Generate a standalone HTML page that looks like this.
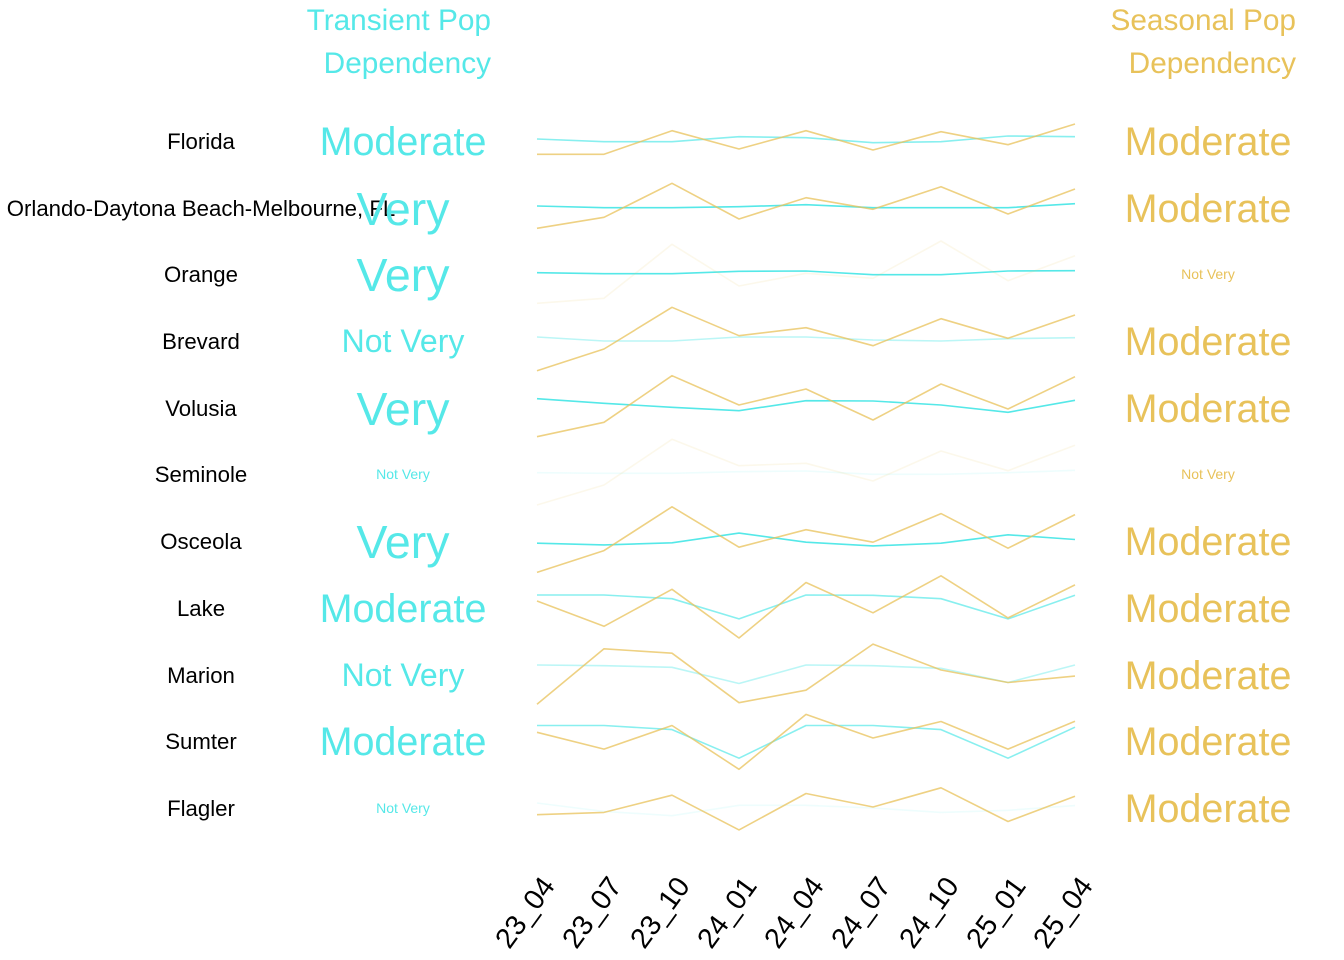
<!DOCTYPE html>
<html><head><meta charset="utf-8"><style>
html,body{margin:0;padding:0;background:#fff;}
svg{display:block;font-family:"Liberation Sans",sans-serif;}
</style></head><body>
<svg width="1344" height="960" viewBox="0 0 1344 960" xmlns="http://www.w3.org/2000/svg">
<g font-size="29.8" text-anchor="end">
<text x="491" y="30" fill="#55e8e8">Transient Pop</text>
<text x="491" y="73" fill="#55e8e8">Dependency</text>
<text x="1296" y="30" fill="#e8c25a">Seasonal Pop</text>
<text x="1296" y="73" fill="#e8c25a">Dependency</text>
</g>
<g font-size="22.2" text-anchor="middle" fill="#000">
<text x="201" y="149">Florida</text>
<text x="201" y="216">Orlando-Daytona Beach-Melbourne, FL</text>
<text x="201" y="282">Orange</text>
<text x="201" y="349">Brevard</text>
<text x="201" y="416">Volusia</text>
<text x="201" y="482">Seminole</text>
<text x="201" y="549">Osceola</text>
<text x="201" y="616">Lake</text>
<text x="201" y="683">Marion</text>
<text x="201" y="749">Sumter</text>
<text x="201" y="816">Flagler</text>
</g>
<g text-anchor="middle" fill="#55e8e8">
<text x="403" y="155" font-size="39.5">Moderate</text>
<text x="403" y="225" font-size="46.5">Very</text>
<text x="403" y="291" font-size="46.5">Very</text>
<text x="403" y="352" font-size="32">Not Very</text>
<text x="403" y="425" font-size="46.5">Very</text>
<text x="403" y="479" font-size="14">Not Very</text>
<text x="403" y="558" font-size="46.5">Very</text>
<text x="403" y="622" font-size="39.5">Moderate</text>
<text x="403" y="686" font-size="32">Not Very</text>
<text x="403" y="755" font-size="39.5">Moderate</text>
<text x="403" y="813" font-size="14">Not Very</text>
</g>
<g text-anchor="middle" fill="#e8c25a">
<text x="1208" y="155" font-size="39.5">Moderate</text>
<text x="1208" y="222" font-size="39.5">Moderate</text>
<text x="1208" y="279" font-size="14">Not Very</text>
<text x="1208" y="355" font-size="39.5">Moderate</text>
<text x="1208" y="422" font-size="39.5">Moderate</text>
<text x="1208" y="479" font-size="14">Not Very</text>
<text x="1208" y="555" font-size="39.5">Moderate</text>
<text x="1208" y="622" font-size="39.5">Moderate</text>
<text x="1208" y="689" font-size="39.5">Moderate</text>
<text x="1208" y="755" font-size="39.5">Moderate</text>
<text x="1208" y="822" font-size="39.5">Moderate</text>
</g>
<g fill="none" stroke-width="1.6" stroke-linejoin="round">
<polyline stroke="rgba(85,232,232,0.7)" points="537,139 604,141.7 672,141.7 739,136.7 806,137.7 873,142.7 941,141.7 1008,136 1075,136.7"/>
<polyline stroke="rgba(232,194,90,0.75)" points="537,154.3 604,154.3 672,130.7 739,149 806,130.7 873,150 941,131.7 1008,144.7 1075,124"/>
<polyline stroke="rgba(85,232,232,1)" points="537,206 604,207.7 672,207.7 739,206.7 806,204.7 873,207.7 941,207.7 1008,207.7 1075,203.7"/>
<polyline stroke="rgba(232,194,90,0.75)" points="537,228.3 604,217.3 672,183.3 739,219 806,197.7 873,209.3 941,186.7 1008,214 1075,189"/>
<polyline stroke="rgba(85,232,232,1)" points="537,272.7 604,273.7 672,273.7 739,271.3 806,271 873,274.7 941,274.7 1008,271 1075,270.7"/>
<polyline stroke="rgba(232,194,90,0.12)" points="537,303.3 604,298.3 672,244.3 739,286 806,273.3 873,278.3 941,241 1008,280.7 1075,255.7"/>
<polyline stroke="rgba(85,232,232,0.4)" points="537,337 604,341 672,341 739,337 806,337 873,340 941,341 1008,338.7 1075,337.7"/>
<polyline stroke="rgba(232,194,90,0.75)" points="537,370.7 604,349 672,307.3 739,335.7 806,327.7 873,345.7 941,318.7 1008,338.3 1075,315"/>
<polyline stroke="rgba(85,232,232,1)" points="537,398.7 604,403.3 672,407.3 739,410.7 806,400.7 873,401 941,405 1008,412.3 1075,400.3"/>
<polyline stroke="rgba(232,194,90,0.75)" points="537,436.7 604,422.3 672,375.7 739,405 806,389 873,420 941,384 1008,409 1075,376.7"/>
<polyline stroke="rgba(85,232,232,0.1)" points="537,472.7 604,473.3 672,473.3 739,471.7 806,471 873,474.3 941,474.3 1008,472.7 1075,470.3"/>
<polyline stroke="rgba(232,194,90,0.12)" points="537,505 604,485 672,439.3 739,465.7 806,463.3 873,481 941,451 1008,470.7 1075,445.3"/>
<polyline stroke="rgba(85,232,232,1)" points="537,543.2 604,544.9 672,542.8 739,533.1 806,542.2 873,545.9 941,543.2 1008,534.8 1075,539.5"/>
<polyline stroke="rgba(232,194,90,0.75)" points="537,572.4 604,550.6 672,506.8 739,547.2 806,529.7 873,542.2 941,513.6 1008,548.2 1075,514.6"/>
<polyline stroke="rgba(85,232,232,0.7)" points="537,595 604,595 672,598.7 739,618.9 806,595 873,595.3 941,598.7 1008,618.9 1075,595.3"/>
<polyline stroke="rgba(232,194,90,0.75)" points="537,601 604,626.3 672,589.3 739,638 806,582.5 873,612.8 941,575.8 1008,617.9 1075,584.9"/>
<polyline stroke="rgba(85,232,232,0.4)" points="537,665 604,665.7 672,667.3 739,683.5 806,665 873,665.7 941,668.3 1008,682.5 1075,665"/>
<polyline stroke="rgba(232,194,90,0.75)" points="537,704.3 604,648.8 672,653.2 739,702.7 806,690.2 873,644.1 941,670 1008,682.5 1075,676.1"/>
<polyline stroke="rgba(85,232,232,0.7)" points="537,725.5 604,725.5 672,729.6 739,758.2 806,725.5 873,725.5 941,729.6 1008,758.2 1075,727.2"/>
<polyline stroke="rgba(232,194,90,0.75)" points="537,732.3 604,749.1 672,725.5 739,769.3 806,714.4 873,738 941,721.5 1008,749.1 1075,721.2"/>
<polyline stroke="rgba(85,232,232,0.1)" points="537,803 604,811.4 672,815.7 739,805.3 806,805.3 873,808 941,812.4 1008,810.3 1075,805.6"/>
<polyline stroke="rgba(232,194,90,0.75)" points="537,814.7 604,812.4 672,795.2 739,829.9 806,793.5 873,807 941,787.8 1008,821.5 1075,796.2"/>
</g>
<g font-size="28.5" text-anchor="end" fill="#000">
<text transform="translate(556,886) rotate(-54)">23_04</text>
<text transform="translate(623,886) rotate(-54)">23_07</text>
<text transform="translate(691,886) rotate(-54)">23_10</text>
<text transform="translate(758,886) rotate(-54)">24_01</text>
<text transform="translate(825,886) rotate(-54)">24_04</text>
<text transform="translate(892,886) rotate(-54)">24_07</text>
<text transform="translate(960,886) rotate(-54)">24_10</text>
<text transform="translate(1027,886) rotate(-54)">25_01</text>
<text transform="translate(1094,886) rotate(-54)">25_04</text>
</g>
</svg>
</body></html>
